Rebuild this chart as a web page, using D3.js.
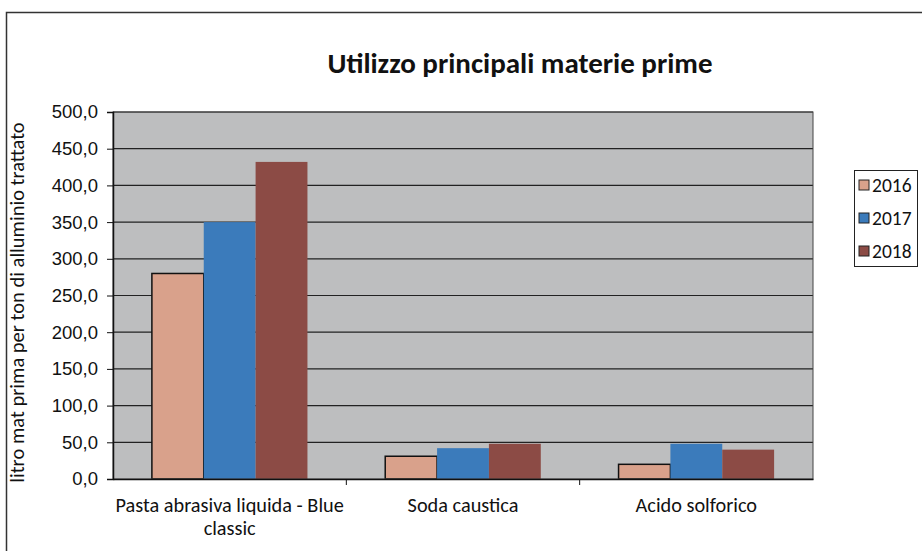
<!DOCTYPE html>
<html>
<head>
<meta charset="utf-8">
<script src="https://cdn.jsdelivr.net/npm/d3@7"></script>
<style>
  body { margin: 0; background: #fff; }
  svg { display: block; font-family: Carlito, "Open Sans", "Noto Sans", sans-serif; }
</style>
</head>
<body>
<svg id="chart" width="922" height="551"></svg>
<script>
const categories = ['Pasta abrasiva liquida - Blue classic', 'Soda caustica', 'Acido solforico'];
const years = ['2016', '2017', '2018'];
const values2016 = [280, 31, 20];
const values2017 = [350, 42, 48];
const values2018 = [432, 48, 40];
const yTicks = [0, 50, 100, 150, 200, 250, 300, 350, 400, 450, 500];

const colors = ['#d9a18b', '#3b7bbb', '#8c4b45'];
const series = [values2016, values2017, values2018];

const svg = d3.select('#chart');
const margin = { left: 113, right: 109, top: 112, bottom: 72 };
const width = 922 - margin.left - margin.right;
const height = 551 - margin.top - margin.bottom;

// outer chart frame
svg.append('rect')
  .attr('x', 6.5).attr('y', 12.5)
  .attr('width', 930).attr('height', 560)
  .attr('fill', 'none').attr('stroke', '#333').attr('stroke-width', 1.5);

const g = svg.append('g').attr('transform', `translate(${margin.left},${margin.top})`);

const x = d3.scaleBand().domain(categories).range([0, width]);
const y = d3.scaleLinear().domain([0, 500]).range([height, 0]);
// excel-ish gap width 150%
const barW = x.bandwidth() / 4.5;

g.append('rect')
  .attr('width', width).attr('height', height)
  .attr('fill', '#bdbebf');

// gridlines
g.append('g')
  .selectAll('line')
  .data(yTicks.slice(1))
  .join('line')
  .attr('x1', 0).attr('x2', width)
  .attr('y1', d => y(d)).attr('y2', d => y(d))
  .attr('stroke', '#222').attr('stroke-width', 1.2);

// bars
series.forEach((vals, si) => {
  g.append('g')
    .selectAll('rect')
    .data(vals)
    .join('rect')
    .attr('x', (d, i) => x(categories[i]) + barW * 0.75 + si * barW)
    .attr('y', d => y(d))
    .attr('width', barW)
    .attr('height', d => height - y(d))
    .attr('fill', colors[si])
    .attr('stroke', si === 0 ? '#111' : 'none')
    .attr('stroke-width', 1.5);
});

// plot border right/top
g.append('rect')
  .attr('width', width).attr('height', height)
  .attr('fill', 'none').attr('stroke', '#444').attr('stroke-width', 1);

// y axis
const yAxis = g.append('g')
  .call(d3.axisLeft(y).tickValues(yTicks).tickSize(6).tickPadding(9)
    .tickFormat(d => d3.format('.1f')(d).replace('.', ',')));
yAxis.select('.domain').attr('stroke', '#111').attr('stroke-width', 1.5);
yAxis.selectAll('.tick line').attr('stroke', '#111');
yAxis.selectAll('text').attr('font-size', 18.5).attr('fill', '#111');

// x axis
const xAxis = g.append('g')
  .attr('transform', `translate(0,${height})`)
  .call(d3.axisBottom(x).tickSize(0).tickFormat(''));
xAxis.select('.domain').attr('stroke', '#111').attr('stroke-width', 1.5);

// category separators ticks
g.append('g')
  .selectAll('line')
  .data(categories.slice(1))
  .join('line')
  .attr('x1', d => x(d)).attr('x2', d => x(d))
  .attr('y1', height).attr('y2', height + 6)
  .attr('stroke', '#111');

// category labels
const labelLines = [['Pasta abrasiva liquida - Blue', 'classic'], ['Soda caustica'], ['Acido solforico']];
g.append('g')
  .selectAll('text')
  .data(categories)
  .join('text')
  .attr('x', d => x(d) + x.bandwidth() / 2)
  .attr('y', height + 33)
  .attr('text-anchor', 'middle')
  .attr('font-size', 20.3)
  .attr('fill', '#111')
  .each(function (d, i) {
    d3.select(this).selectAll('tspan')
      .data(labelLines[i])
      .join('tspan')
      .attr('x', x(d) + x.bandwidth() / 2)
      .attr('dy', (t, j) => j === 0 ? 0 : 23)
      .text(t => t);
  });

// y axis title
svg.append('text')
  .attr('transform', `translate(24,${margin.top + height / 2 + 7}) rotate(-90)`)
  .attr('text-anchor', 'middle')
  .attr('font-size', 20.5)
  .attr('fill', '#111')
  .text('litro  mat prima per ton di alluminio trattato');

// title
svg.append('text')
  .attr('x', 520).attr('y', 73)
  .attr('text-anchor', 'middle')
  .attr('font-size', 29)
  .attr('font-weight', 'bold')
  .attr('fill', '#111')
  .text('Utilizzo principali materie prime');

// legend
const legend = svg.append('g').attr('transform', 'translate(854,170)');
legend.append('rect')
  .attr('x', 0.5).attr('y', 0.5).attr('width', 63).attr('height', 96)
  .attr('fill', '#fff').attr('stroke', '#222');
years.forEach((yr, i) => {
  const row = legend.append('g').attr('transform', `translate(5,${15 + i * 33})`);
  row.append('rect')
    .attr('x', 0).attr('y', -5).attr('width', 10).attr('height', 10)
    .attr('fill', colors[i]).attr('stroke', '#222');
  row.append('text')
    .attr('x', 13).attr('y', 7)
    .attr('font-size', 19.5)
    .attr('fill', '#111')
    .text(yr);
});
</script>
</body>
</html>
